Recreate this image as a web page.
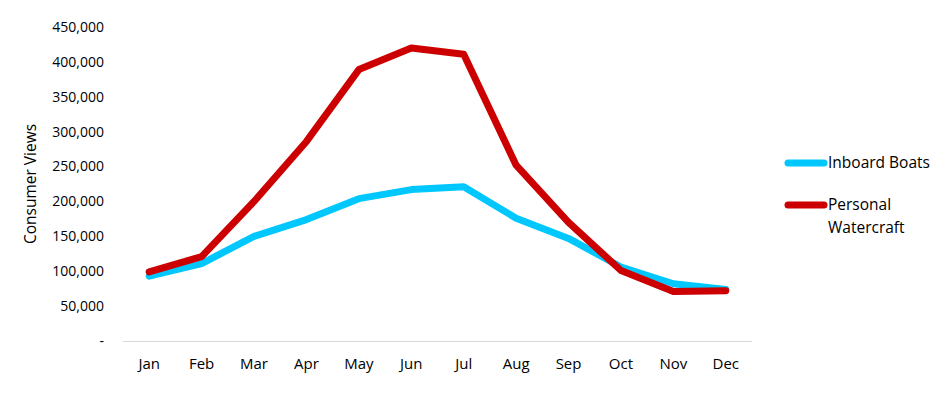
<!DOCTYPE html>
<html>
<head>
<meta charset="utf-8">
<script src="https://cdn.jsdelivr.net/npm/d3@7"></script>
<style>
  body { margin: 0; background: #fff; }
  svg text { font-family: "Open Sans", "Liberation Sans", sans-serif; fill: #000; }
</style>
</head>
<body>
<div id="chart"></div>
<script>
const months = ['Jan', 'Feb', 'Mar', 'Apr', 'May', 'Jun', 'Jul', 'Aug', 'Sep', 'Oct', 'Nov', 'Dec'];
const inboardBoats = [93000, 111000, 150000, 174000, 204000, 217000, 221000, 176000, 147000, 106000, 82000, 74000];
const personalWatercraft = [99000, 121000, 200000, 286000, 389000, 420000, 411000, 252000, 170000, 101000, 71000, 72000];
const yTicks = [0, 50000, 100000, 150000, 200000, 250000, 300000, 350000, 400000, 450000];

const series = [
  { name: ['Inboard Boats'], values: inboardBoats, color: '#00c8ff' },
  { name: ['Personal', 'Watercraft'], values: personalWatercraft, color: '#cc0000' },
];

const width = 950;
const height = 399;
const margin = { top: 27, right: 198, bottom: 58, left: 123 };

const svg = d3
  .select('#chart')
  .append('svg')
  .attr('width', width)
  .attr('height', height);

const x = d3
  .scaleBand()
  .domain(months)
  .range([margin.left, width - margin.right]);

const y = d3
  .scaleLinear()
  .domain([0, 450000])
  .range([height - margin.bottom, margin.top]);

// y axis labels only, no axis line
const fmt = d3.format(',');
svg
  .selectAll('.ytick')
  .data(yTicks)
  .join('text')
  .attr('class', 'ytick')
  .attr('x', 104)
  .attr('y', (d) => y(d))
  .attr('dy', '0.35em')
  .attr('text-anchor', 'end')
  .style('font-size', '14px')
  .text((d) => (d === 0 ? '-' : fmt(d)));

// x axis baseline
svg
  .append('line')
  .attr('x1', margin.left)
  .attr('x2', width - margin.right)
  .attr('y1', y(0) + 0.5)
  .attr('y2', y(0) + 0.5)
  .attr('stroke', '#d9d9d9')
  .attr('stroke-width', 1);

svg
  .selectAll('.xtick')
  .data(months)
  .join('text')
  .attr('class', 'xtick')
  .attr('x', (d) => x(d) + x.bandwidth() / 2)
  .attr('y', 364)
  .attr('dy', '0.35em')
  .attr('text-anchor', 'middle')
  .style('font-size', '15px')
  .text((d) => d);

// y title
svg
  .append('text')
  .attr('transform', 'translate(31,' + 184 + ') rotate(-90)')
  .attr('dy', '0.35em')
  .attr('text-anchor', 'middle')
  .style('font-size', '15.5px')
  .text('Consumer Views');

const line = d3
  .line()
  .x((d, i) => x(months[i]) + x.bandwidth() / 2)
  .y((d) => y(d));

svg
  .selectAll('.series')
  .data(series)
  .join('path')
  .attr('class', 'series')
  .attr('fill', 'none')
  .attr('stroke', (d) => d.color)
  .attr('stroke-width', 7)
  .attr('stroke-linejoin', 'round')
  .attr('stroke-linecap', 'round')
  .attr('d', (d) => line(d.values));

// legend
const legend = svg
  .selectAll('.legend')
  .data(series)
  .join('g')
  .attr('class', 'legend')
  .attr('transform', (d, i) => 'translate(786,' + (163 + i * 42) + ')');

legend
  .append('line')
  .attr('x1', 2)
  .attr('x2', 38)
  .attr('stroke', (d) => d.color)
  .attr('stroke-width', 7)
  .attr('stroke-linecap', 'round');

legend
  .append('text')
  .attr('x', 42)
  .style('font-size', '15.5px')
  .selectAll('tspan')
  .data((d) => d.name)
  .join('tspan')
  .attr('x', 42)
  .attr('y', (d, i) => i * 23)
  .attr('dy', '0.35em')
  .text((d) => d);
</script>
</body>
</html>
